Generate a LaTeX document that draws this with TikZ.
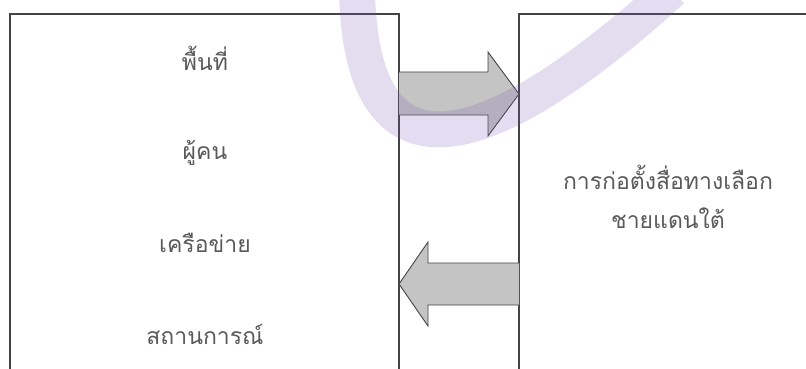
\documentclass[tikz,border=0pt]{standalone}
\usepackage{fontspec}
\newfontfamily\thaifont[Script=Thai]{Loma}
\definecolor{boxline}{HTML}{444444}
\definecolor{txtgray}{HTML}{5A5A5A}
\definecolor{arrowfill}{HTML}{C4C4C4}
\definecolor{wmark}{HTML}{7A52B3}
\begin{document}
\begin{tikzpicture}[x=1pt,y=-1pt,
  box/.style={draw=boxline,line width=1.1pt,fill=white,minimum width=#1,minimum height=420pt,anchor=north west,inner sep=0pt,outer sep=0pt},
  lbl/.style={font=\thaifont\fontsize{23}{27}\selectfont,text=txtgray,inner sep=0pt},
  blk/.style={draw=boxline,line width=0.9pt,fill=arrowfill,line join=miter}]
\useasboundingbox (0,0) rectangle (806,369);
\clip (0,0) rectangle (806,369);
\node[box=389pt] (L) at (10,14) {};
\node[box=320pt] (R) at (519,14) {};
% text
\node[lbl] (t1) at (205,58) {พื้นที่};
\node[lbl] (t2) at (205,153) {ผู้คน};
\node[lbl] (t3) at (205,243) {เครือข่าย};
\node[lbl] (t4) at (205,334) {สถานการณ์};
\node[lbl] (r1) at (668,177) {การก่อตั้งสื่อทางเลือก};
\node[lbl] (r2) at (668,218) {ชายแดนใต้};
% right arrow (L -> R)
\coordinate (a0) at (L.north east |- 0,72);
\coordinate (a1) at (R.north west |- 0,94);
\draw[blk] (a0) -- (488,72) -- (488,52) -- (a1) -- (488,136) -- (488,115) -- (a0 |- 0,115);
% left arrow (R -> L)
\coordinate (b0) at (R.north west |- 0,263);
\coordinate (b1) at (L.north east |- 0,284);
\draw[blk] (b0) -- (428,263) -- (428,242) -- (b1) -- (428,326) -- (428,305) -- (b0 |- 0,305);
% watermark
\draw[wmark,opacity=0.2,line width=36pt,line cap=butt] (357,-10) .. controls (360,150) and (440,200) .. (672,-10);
\end{tikzpicture}
\end{document}
